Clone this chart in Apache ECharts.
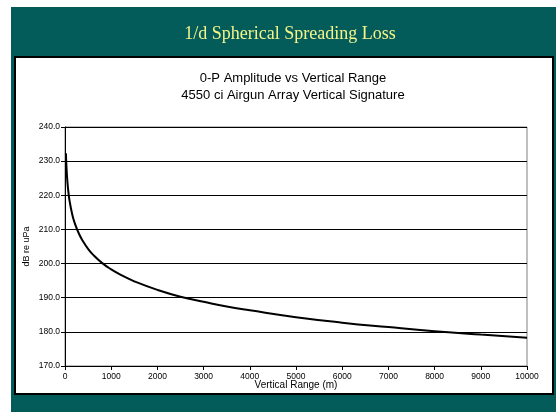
<!DOCTYPE html>
<html>
<head>
<meta charset="utf-8">
<script src="https://cdn.jsdelivr.net/npm/echarts@6/dist/echarts.min.js"></script>
<style>
  html, body { margin: 0; padding: 0; background: #fff; }
  #chart { width: 556px; height: 412px; }
</style>
</head>
<body>
<div id="chart"></div>
<script>
// range (m) and 0-P amplitude (dB re uPa)
var ranges = [20, 30, 50, 75, 100, 150, 200, 300, 400, 500, 600, 800, 1000, 1250, 1500,
    2000, 2500, 3000, 3500, 4000, 5000, 6000, 7000, 8000, 9000, 10000];
var amplitude = [232.3, 228.8, 224.3, 220.8, 218.3, 214.8, 212.3, 208.8, 206.3, 204.3, 202.7,
    200.2, 198.3, 196.4, 194.8, 192.3, 190.3, 188.8, 187.4, 186.3, 184.3, 182.7, 181.4,
    180.2, 179.2, 178.3];
var yTicks = [170, 180, 190, 200, 210, 220, 230, 240];

var points = [];
for (var i = 0; i < ranges.length; i++) {
    points.push([ranges[i], amplitude[i]]);
}

var chart = echarts.init(document.getElementById('chart'));
var option = {
    animation: false,
    graphic: [
        { type: 'rect', z: -10, shape: { x: 11, y: 7, width: 545, height: 405 }, style: { fill: '#035c5a' } },
        { type: 'rect', z: -9, shape: { x: 15, y: 57, width: 538, height: 337 }, style: { fill: '#fff', stroke: '#000', lineWidth: 2 } },
        { type: 'rect', z: -8, shape: { x: 65, y: 127, width: 462, height: 239 }, style: { fill: 'none', stroke: '#808080', lineWidth: 1 } }
    ],
    title: [{
        text: '1/d Spherical Spreading Loss',
        left: 285, top: 20, textAlign: 'center',
        textStyle: { fontFamily: 'Liberation Serif', fontWeight: 'normal', fontSize: 18, color: '#f4f48a' }
    }, {
        text: '0-P Amplitude vs Vertical Range\n4550 ci Airgun Array Vertical Signature',
        left: 288, top: 65, textAlign: 'center',
        textStyle: { fontFamily: 'Liberation Sans', fontWeight: 'normal', fontSize: 13, lineHeight: 17, color: '#000' }
    }],
    grid: { left: 65, right: 29, top: 127, bottom: 46 },
    xAxis: {
        type: 'value', min: 0, max: 10000, interval: 1000,
        name: 'Vertical Range (m)', nameLocation: 'middle', nameGap: 14, nameMoveOverlap: false,
        nameTextStyle: { fontFamily: 'Liberation Sans', fontSize: 10, color: '#000', lineHeight: 10 },
        axisLine: { show: true, lineStyle: { color: '#000', width: 1 } },
        axisTick: { show: true, length: 4, lineStyle: { color: '#000' } },
        axisLabel: { fontFamily: 'Liberation Sans', fontSize: 8.5, color: '#000', margin: 6,
            formatter: function (v) { return String(v); } },
        splitLine: { show: false }
    },
    yAxis: {
        type: 'value', min: yTicks[0], max: yTicks[yTicks.length - 1], interval: 10,
        name: 'dB re uPa', nameLocation: 'middle', nameGap: 34, nameMoveOverlap: false,
        nameTextStyle: { fontFamily: 'Liberation Sans', fontSize: 9, color: '#000' },
        axisLine: { show: true, lineStyle: { color: '#000', width: 1 } },
        axisTick: { show: true, length: 4, lineStyle: { color: '#000' } },
        axisLabel: { fontFamily: 'Liberation Sans', fontSize: 8.5, color: '#000', margin: 5,
            formatter: function (v) { return v.toFixed(1); } },
        splitLine: { show: true, lineStyle: { color: '#000', width: 1 } }
    },
    series: [{
        type: 'line',
        data: points,
        smooth: true,
        showSymbol: false,
        lineStyle: { color: '#000', width: 2 }
    }]
};
chart.setOption(option);
</script>
</body>
</html>
